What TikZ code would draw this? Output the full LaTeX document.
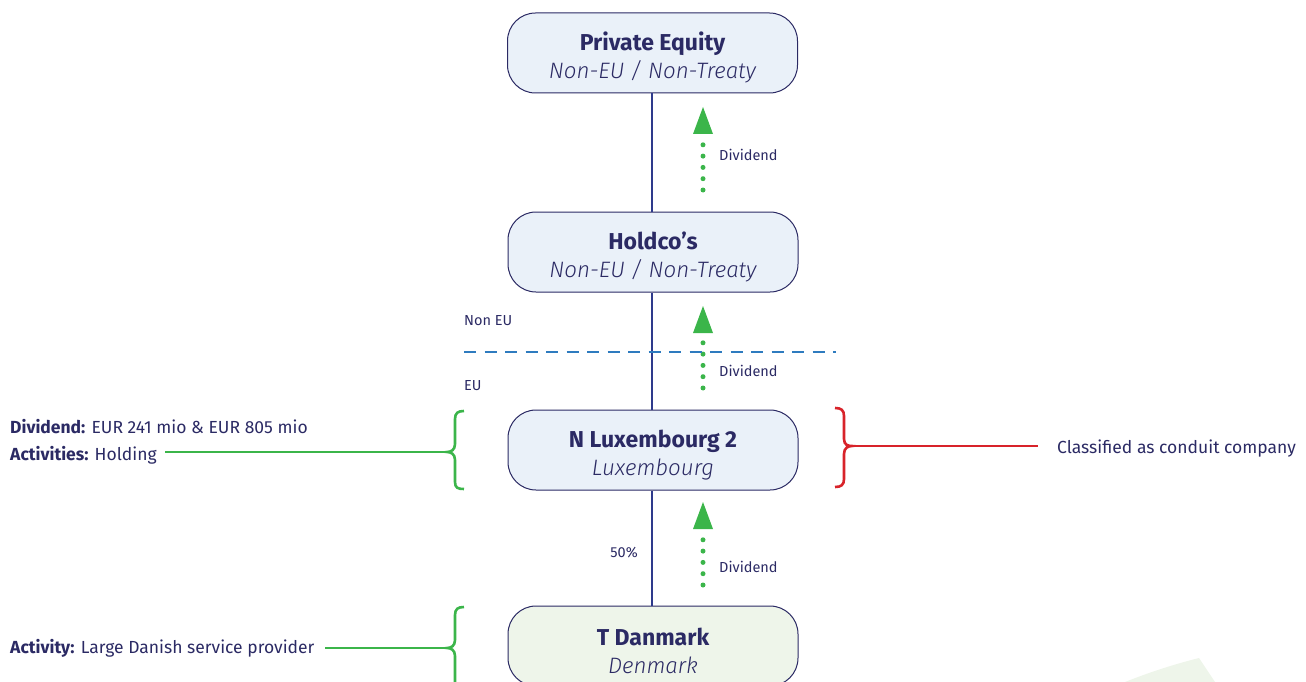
\documentclass[tikz,border=0pt]{standalone}
\usepackage{fontspec}
\setmainfont{Fira Sans}
\newfontface\lightit{Fira Sans Light Italic}
\usetikzlibrary{arrows.meta,calc}
\definecolor{navy}{HTML}{2B2A64}
\definecolor{linenavy}{HTML}{2E3A8C}
\definecolor{boxblue}{HTML}{EAF1F9}
\definecolor{boxgreen}{HTML}{EEF5EA}
\definecolor{divgreen}{HTML}{3BB54A}
\definecolor{dashblue}{HTML}{2E7BBF}
\definecolor{bracered}{HTML}{D8232A}
\newcommand\ttl[1]{\rule{0pt}{27pt}{\fontsize{23}{28}\selectfont\bfseries #1}}
\newcommand\sub[1]{{\fontsize{22.3}{28}\selectfont\lightit #1}}
\tikzset{
  entity/.style={draw=navy, line width=1pt, fill=boxblue, rounded corners=28pt,
    minimum width=290pt, minimum height=80pt, align=center, text=navy,
    font=\fontsize{23}{28}\selectfont},
  own/.style={draw=linenavy, line width=2.6pt},
  dots/.style={draw=divgreen, line width=5pt, line cap=round, dash pattern=on 0pt off 11.3pt},
  head/.style={fill=divgreen},
  lbl/.style={text=navy, font=\fontsize{14.5}{16}\selectfont, inner sep=0pt},
  note/.style={text=navy, font=\fontsize{17.5}{27}\selectfont, inner sep=0pt, align=left},
  gbrace/.style={draw=divgreen, line width=2.6pt},
  rbrace/.style={draw=bracered, line width=2.6pt},
}
\begin{document}
\begin{tikzpicture}[x=1pt,y=-1pt]
\useasboundingbox (0,0) rectangle (1306,682);
% decorative shape
\fill[boxgreen] (1125,682) .. controls (1150,672) and (1175,664) .. (1199,658) -- (1215,682) -- cycle;

\node[entity] (pe) at (652.5,53) {\ttl{Private Equity}\\\sub{Non-EU / Non-Treaty}};
\node[entity] (hc) at (653,252) {\ttl{Holdco’s}\\\sub{Non-EU / Non-Treaty}};
\node[entity] (lux) at (653,450) {\ttl{N Luxembourg 2}\\\sub{Luxembourg}};
\node[entity, fill=boxgreen] (dk) at (653,646) {\ttl{T Danmark}\\\sub{Denmark}};

\draw[own] (pe.south -| 652,0) -- (hc.north -| 652,0);
\draw[own] (hc.south -| 652,0) -- (lux.north -| 652,0);
\draw[own] (lux.south -| 652,0) -- (dk.north -| 652,0);

% dividend arrows
\foreach \t/\b/\n in {107/190/a, 306/388/b, 502/585/c}{
  \coordinate (\n top) at (703,\t);
  \coordinate (\n bot) at (703,\b);
  \draw[dots] (\n bot) -- ($(\n bot)+(0,-48)$);
  \fill[head] (\n top) -- ++(10,27) -- ++(-20,0) -- cycle;
}
\node[lbl, anchor=west] (da) at (719,155) {Dividend};
\node[lbl, anchor=west] (db) at (719,371) {Dividend};
\node[lbl, anchor=west] (dc) at (719,567) {Dividend};

% EU border
\coordinate (eul) at (464,352);
\coordinate (eur) at (836,352);
\draw[draw=dashblue, line width=2.6pt, dash pattern=on 12pt off 8.5pt] (eul) -- (eur);
\node[lbl, anchor=west] (noneu) at (464,321) {Non EU};
\node[lbl, anchor=west] (eu) at (464,386) {EU};
\node[lbl, anchor=east] (pct) at (638,553) {50\%};

% left brace Luxembourg
\draw[gbrace] (464,411) .. controls (458,411) and (455,413) .. (455,419) -- (455,444) .. controls (455,450) and (451,452) .. (447,452) .. controls (451,452) and (455,454) .. (455,460) -- (455,482) .. controls (455,488) and (458,489) .. (464,489);
\coordinate (bl1) at (447,452);
\node[note, anchor=north west] (luxnote) at (10,419) {\textbf{Dividend:} EUR 241 mio \& EUR 805 mio\\\textbf{Activities:} Holding};
\coordinate (bl1e) at (165,452);
\draw[gbrace] (bl1e) -- (bl1);

% right brace red
\draw[rbrace] (835,408) .. controls (841,408) and (844,410) .. (844,416) -- (844,439) .. controls (844,445) and (848,446) .. (852,446) .. controls (848,446) and (844,448) .. (844,454) -- (844,479) .. controls (844,485) and (841,487) .. (835,487);
\coordinate (br1) at (852,446);
\coordinate (br1e) at (1038,446);
\draw[rbrace] (br1) -- (br1e);
\node[note, anchor=west] (conduit) at (1057,449) {Classified as conduit company};

% bottom brace
\draw[gbrace] (464,607) .. controls (458,607) and (455,609) .. (455,615) -- (455,640) .. controls (455,646) and (451,648) .. (447,648) .. controls (451,648) and (455,650) .. (455,656) -- (455,684) .. controls (455,690) and (458,691) .. (464,691);
\coordinate (bl2) at (447,648);
\coordinate (bl2e) at (325,648);
\draw[gbrace] (bl2e) -- (bl2);
\node[note, anchor=west] (dknote) at (10,648) {\textbf{Activity:} Large Danish service provider};
\end{tikzpicture}
\end{document}
